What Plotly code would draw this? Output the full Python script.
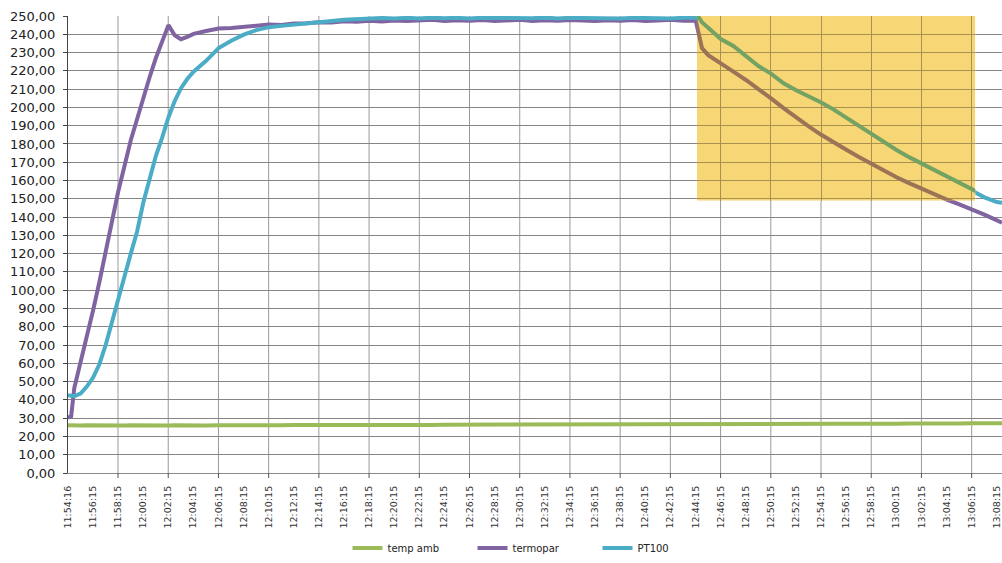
import pandas as pd
import plotly.graph_objects as go

# --- logged readings -------------------------------------------------------
day = "2013-05-20"

times = [
    "11:54:16", "11:54:31", "11:54:46", "11:55:16", "11:55:46", "11:56:16",
    "11:56:46", "11:57:16", "11:57:46", "11:58:16", "11:58:46", "11:59:16",
    "11:59:46", "12:00:16", "12:00:46", "12:01:16", "12:01:46", "12:02:16",
    "12:02:46", "12:03:16", "12:03:46", "12:04:16", "12:05:16", "12:06:16",
    "12:07:16", "12:08:16", "12:09:16", "12:10:16", "12:11:16", "12:12:16",
    "12:13:16", "12:14:16", "12:15:16", "12:16:16", "12:17:16", "12:18:16",
    "12:19:16", "12:20:16", "12:21:16", "12:22:16", "12:23:16", "12:24:16",
    "12:25:16", "12:26:16", "12:27:16", "12:28:16", "12:29:16", "12:30:16",
    "12:31:16", "12:32:16", "12:33:16", "12:34:16", "12:35:16", "12:36:16",
    "12:37:16", "12:38:16", "12:39:16", "12:40:16", "12:41:16", "12:42:16",
    "12:43:16", "12:44:16", "12:44:31", "12:44:46", "12:45:16", "12:45:46",
    "12:46:16", "12:47:16", "12:48:16", "12:49:16", "12:50:16", "12:51:16",
    "12:52:16", "12:53:16", "12:54:16", "12:55:16", "12:56:16", "12:57:16",
    "12:58:16", "12:59:16", "13:00:16", "13:01:16", "13:02:16", "13:03:16",
    "13:04:16", "13:05:16", "13:06:16", "13:07:16", "13:08:16", "13:08:40",
]

temp_amb = [
    26.1, 26.0, 26.1, 26.0, 26.1, 26.0, 26.1, 26.0, 26.0, 26.1, 26.0, 26.1,
    26.0, 26.0, 26.1, 26.0, 26.1, 26.0, 26.1, 26.0, 26.0, 26.1, 26.0, 26.1,
    26.0, 26.1, 26.0, 26.1, 26.1, 26.2, 26.1, 26.2, 26.1, 26.2, 26.2, 26.3,
    26.2, 26.3, 26.3, 26.4, 26.3, 26.4, 26.4, 26.5, 26.4, 26.5, 26.5, 26.6,
    26.5, 26.6, 26.6, 26.5, 26.6, 26.6, 26.7, 26.6, 26.7, 26.6, 26.7, 26.7,
    26.6, 26.5, 26.4, 26.5, 26.6, 26.6, 26.7, 26.7, 26.8, 26.8, 26.8, 26.9,
    26.8, 26.9, 26.9, 26.9, 27.0, 26.9, 27.0, 27.0, 27.0, 27.1, 27.0, 27.1,
    27.1, 27.1, 27.2, 27.1, 27.2, 27.2,
]

termopar = [
    30.2, 31.0, 46.5, 60.5, 74.0, 89.0, 104.5, 120.5, 139.0, 154.0, 168.0, 182.0,
    193.5, 205.5, 216.5, 227.0, 236.0, 245.0, 239.5, 237.3, 238.6, 240.2, 241.8, 243.1,
    243.4, 244.2, 244.6, 245.3, 245.1, 245.9, 246.0, 246.6, 246.4, 247.1, 246.8, 247.4,
    247.0, 247.6, 247.2, 247.5, 247.9, 247.3, 247.7, 247.4, 247.8, 247.2, 247.6, 247.9,
    247.3, 247.7, 247.4, 247.8, 247.5, 247.2, 247.7, 247.4, 247.8, 247.3, 247.6, 247.9,
    247.4, 247.6, 240.0, 232.5, 228.6, 226.2, 224.0, 219.6, 215.0, 210.1, 204.9, 199.6,
    194.5, 189.6, 185.0, 180.7, 176.8, 172.9, 169.1, 165.2, 161.8, 158.6, 155.5, 152.6,
    149.6, 147.0, 144.4, 141.3, 138.2, 137.0,
]

pt100 = [
    42.6, 42.1, 42.0, 43.4, 47.3, 52.2, 59.5, 70.0, 82.0, 95.5, 107.5, 120.0,
    132.0, 148.0, 161.5, 173.5, 183.5, 194.5, 203.5, 210.5, 215.5, 219.5, 225.5, 232.5,
    236.5, 239.8, 242.3, 243.9, 244.6, 245.4, 245.9, 246.6, 247.3, 247.9, 248.3, 248.7,
    248.9, 248.6, 249.0, 248.7, 249.1, 248.8, 249.0, 248.6, 249.1, 248.9, 248.7, 249.0,
    248.8, 249.1, 248.7, 249.0, 248.8, 249.1, 248.9, 248.6, 249.0, 248.8, 249.1, 248.7,
    249.0, 248.9, 249.2, 246.6, 243.5, 240.8, 237.4, 233.6, 227.8, 222.6, 218.5, 213.2,
    209.4, 206.1, 202.7, 198.8, 194.3, 189.6, 185.4, 181.0, 176.7, 172.8, 169.2, 165.3,
    161.6, 158.1, 154.6, 150.8, 148.2, 147.8,
]

# x-axis labels (every two minutes) and vertical grid positions (every four)
tick_labels = ["11:54:16"] + [
    f"{(11 * 60 + 56 + 2 * i) // 60:02d}:{(11 * 60 + 56 + 2 * i) % 60:02d}:15"
    for i in range(37)
]
grid_labels = tick_labels[2::2]

# highlighted cooling window
region_start, region_end = "12:44:22", "13:06:32"
region_low, region_high = 149, 250

x_start, x_end = "11:54:16", "13:08:40"
y_min, y_max = 0, 250

series = [
    ("temp amb", temp_amb, "#9BBB59"),
    ("termopar", termopar, "#8064A2"),
    ("PT100", pt100, "#4BACC6"),
]

highlight = (247, 214, 118)
grid_color = (140, 140, 140)


def ts(t):
    return f"{day} {t}"


def hex_rgb(h):
    h = h.lstrip("#")
    return tuple(int(h[i:i + 2], 16) for i in (0, 2, 4))


def marker_pen(rgb, keep=0.75):
    """Colour of a stroke seen through the yellow highlighter."""
    out = []
    for c, y in zip(rgb, highlight):
        mult = c * y / 255
        out.append(round(keep * mult + (1 - keep) * y))
    return "rgb({},{},{})".format(*out)


def frac(t):
    t0, t1 = pd.Timestamp(ts(x_start)), pd.Timestamp(ts(x_end))
    return (pd.Timestamp(ts(t)) - t0) / (t1 - t0)


x = [ts(t) for t in times]

fig = go.Figure()
for name, vals, color in series:
    fig.add_trace(go.Scatter(
        x=x, y=vals, name=name, mode="lines",
        line=dict(color=color, width=4),
    ))

# the same curves seen through the highlighted window (clipped to it)
for name, vals, color in series:
    fig.add_trace(go.Scatter(
        x=x, y=vals, name=name, mode="lines", showlegend=False,
        xaxis="x2", yaxis="y2",
        line=dict(color=marker_pen(hex_rgb(color)), width=4),
    ))

shapes = []
for t in grid_labels:
    shapes.append(dict(type="line", xref="x", yref="paper",
                       x0=ts(t), x1=ts(t), y0=0, y1=1,
                       line=dict(color="#9a9a9a", width=1), layer="below"))
    shapes.append(dict(type="line", xref="x", yref="paper",
                       x0=ts(t), x1=ts(t), y0=0, y1=-0.011,
                       line=dict(color="#555555", width=1), layer="above"))
shapes.append(dict(type="rect", xref="x2", yref="y2",
                   x0=ts(region_start), x1=ts(region_end),
                   y0=region_low, y1=region_high,
                   fillcolor="rgb({},{},{})".format(*highlight),
                   line=dict(width=0), layer="below"))

fig.update_layout(
    width=1002, height=563,
    margin=dict(l=68, r=0, t=16, b=83),
    paper_bgcolor="white", plot_bgcolor="white",
    separators=", ",
    font=dict(family="DejaVu Sans", color="#222222"),
    shapes=shapes,
    showlegend=True,
    legend=dict(
        orientation="h", x=0.5, xanchor="center", y=-0.164, yanchor="middle",
        font=dict(size=10, color="#222222"), entrywidth=80, entrywidthmode="pixels",
        bgcolor="rgba(0,0,0,0)",
    ),
    xaxis=dict(
        type="date",
        range=[ts(x_start), ts(x_end)],
        tickmode="array",
        tickvals=[ts(t) for t in tick_labels],
        ticktext=tick_labels,
        tickangle=-90,
        tickfont=dict(size=9.5, color="#333333"),
        ticks="", showgrid=False, zeroline=False,
        showline=True, linecolor="#8a8a8a", linewidth=1,
        ticklabelstandoff=8,
    ),
    yaxis=dict(
        range=[y_min, y_max], dtick=10, tick0=0,
        tickformat=".2f",
        tickfont=dict(size=13, color="#222222"),
        showgrid=True, gridcolor="#858585", gridwidth=1,
        zeroline=False,
        showline=True, linecolor="#444444", linewidth=1,
        ticks="outside", ticklen=4, tickcolor="#444444",
        ticklabelstandoff=5,
    ),
    xaxis2=dict(
        type="date", anchor="y2",
        domain=[frac(region_start), frac(region_end)],
        range=[ts(region_start), ts(region_end)],
        tickmode="array", tickvals=[ts(t) for t in grid_labels],
        showticklabels=False, ticks="", showline=False, zeroline=False,
        showgrid=True, gridcolor=marker_pen(grid_color, keep=0.7), gridwidth=1,
    ),
    yaxis2=dict(
        anchor="x2",
        domain=[region_low / y_max, region_high / y_max],
        range=[region_low, region_high], dtick=10, tick0=0,
        showticklabels=False, ticks="", showline=False, zeroline=False,
        showgrid=True, gridcolor=marker_pen(grid_color, keep=0.7), gridwidth=1,
    ),
)

fig.write_html("out.html", config={"displayModeBar": False})
